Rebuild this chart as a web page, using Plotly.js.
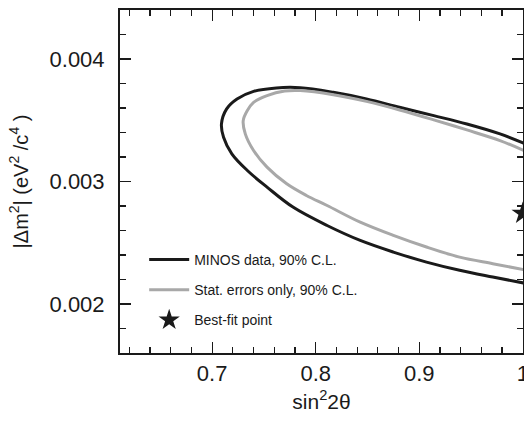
<!DOCTYPE html>
<html>
<head>
<meta charset="utf-8">
<script src="https://cdn.plot.ly/plotly-3.0.1.min.js"></script>
<style>
html,body{margin:0;padding:0;background:#fff;overflow:hidden;}
#chart{width:524px;height:421px;}
</style>
</head>
<body>
<div id="chart"></div>
<script>
// MINOS data, 90% C.L. contour
const minosX = [1.001, 0.978, 0.946, 0.914, 0.881, 0.849, 0.817, 0.785, 0.762, 0.740, 0.724, 0.714, 0.709, 0.711, 0.719, 0.734, 0.753, 0.778, 0.811, 0.843, 0.875, 0.907, 0.939, 0.971, 1.001];
const minosY = [0.003312, 0.003389, 0.003470, 0.003538, 0.003606, 0.003674, 0.003728, 0.003766, 0.003764, 0.003736, 0.003674, 0.003593, 0.003470, 0.003361, 0.003226, 0.003090, 0.002954, 0.002791, 0.002641, 0.002519, 0.002424, 0.002342, 0.002275, 0.002220, 0.002171];
// Stat. errors only, 90% C.L. contour
const statX = [1.001, 0.978, 0.946, 0.914, 0.881, 0.849, 0.817, 0.785, 0.770, 0.753, 0.740, 0.734, 0.730, 0.732, 0.740, 0.753, 0.772, 0.791, 0.811, 0.843, 0.875, 0.907, 0.939, 0.971, 1.001];
const statY = [0.003253, 0.003334, 0.003421, 0.003503, 0.003584, 0.003654, 0.003709, 0.003742, 0.003738, 0.003701, 0.003646, 0.003579, 0.003497, 0.003389, 0.003253, 0.003117, 0.002981, 0.002886, 0.002804, 0.002668, 0.002560, 0.002465, 0.002383, 0.002329, 0.002280];
// Best-fit point
const bestX = [1.0];
const bestY = [0.00274];

const xTickVals = [0.7, 0.8, 0.9, 1.0];
const yTickVals = [0.002, 0.003, 0.004];

const FONT = 'Liberation Sans, Arial, Helvetica, sans-serif';
const INK = '#1a1a1a';

const traces = [
  {x: minosX, y: minosY, mode: 'lines', name: 'MINOS data, 90% C.L.', legendgroup: 'a',
   line: {color: INK, width: 3, shape: 'spline', smoothing: 1}},
  {x: statX, y: statY, mode: 'lines', name: 'Stat. errors only, 90% C.L.', legendgroup: 'b',
   line: {color: '#a8a8a8', width: 3, shape: 'spline', smoothing: 1}},
  {x: bestX, y: bestY, mode: 'markers', name: 'Best-fit point', legendgroup: 'c',
   marker: {symbol: 'star', size: 17, color: INK}}
];

const axisCommon = {
  showgrid: false, zeroline: false, showline: true, linecolor: INK, linewidth: 2,
  mirror: 'ticks', ticks: 'inside', ticklen: 11, tickwidth: 1.3, tickcolor: INK,
  tickfont: {family: FONT, size: 22, color: INK}, ticklabeloverflow: 'allow'
};

const layout = {
  width: 524, height: 421,
  margin: {l: 120, r: 1, t: 10, b: 68},
  paper_bgcolor: '#fff', plot_bgcolor: '#fff',
  font: {family: FONT, color: INK},
  showlegend: true,
  legend: {x: 0.06, y: 0.318, xanchor: 'left', yanchor: 'top', bgcolor: 'rgba(0,0,0,0)',
           font: {family: FONT, size: 14, color: INK}, tracegroupgap: 9, itemwidth: 40},
  xaxis: Object.assign({}, axisCommon, {
    range: [0.611, 1.0002], tickvals: xTickVals, ticklabelstandoff: 0,
    minor: {dtick: 0.02, ticks: 'inside', ticklen: 6, tickwidth: 1.2, tickcolor: INK},
    title: {text: 'sin<sup>2</sup>2θ', font: {family: FONT, size: 21, color: INK}, standoff: 9}
  }),
  yaxis: Object.assign({}, axisCommon, {
    range: [0.0016, 0.0044], tickvals: yTickVals, tickformat: '.3f', ticklabelstandoff: 9,
    minor: {dtick: 0.0002, ticks: 'inside', ticklen: 6, tickwidth: 1.2, tickcolor: INK},
    title: {text: '|Δm<sup>2</sup>| (eV<sup>2</sup> /c<sup>4</sup> )', font: {family: FONT, size: 20, color: INK}, standoff: 16}
  })
};

Plotly.newPlot('chart', traces, layout, {displayModeBar: false, staticPlot: true});
</script>
</body>
</html>
